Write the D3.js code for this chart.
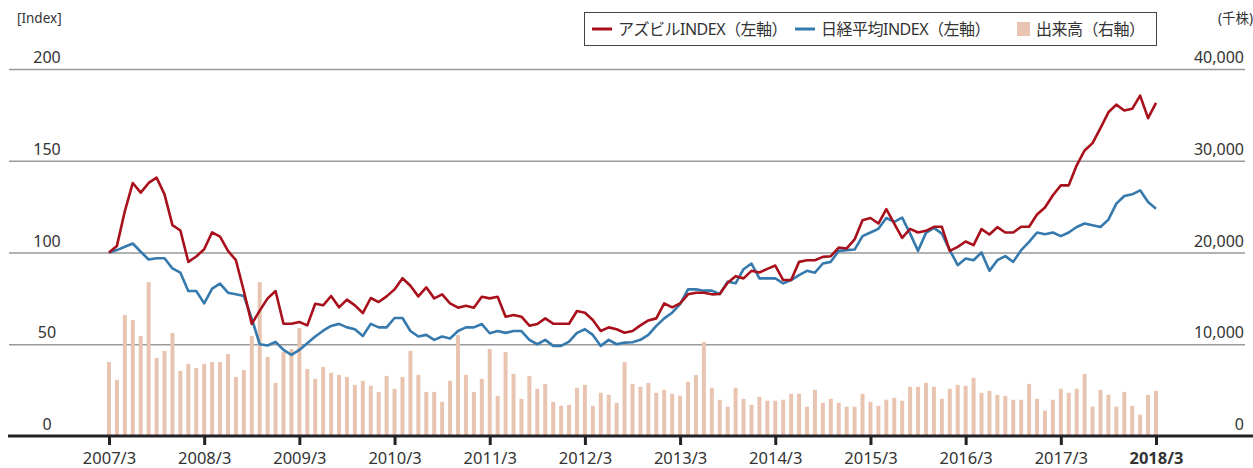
<!DOCTYPE html>
<html>
<head>
<meta charset="utf-8">
<script src="https://cdn.jsdelivr.net/npm/d3@7"></script>
<style>
  body { margin: 0; background: #fff; }
  svg { display: block; }
  text { font-family: "Noto Sans", "Noto Sans CJK JP", sans-serif; fill: #333; }
</style>
</head>
<body>
<div id="chart"></div>
<script>
// monthly, 2007/3 .. 2018/3 (133 points)
var azbil = [
  100, 103.6, 122.6, 137.9, 132.6, 137.9, 140.8, 131.7, 114.9, 112, 94.9, 97.8,
  101.8, 111, 108.7, 100.9, 95.8, 79, 61.1, 68.3, 75, 79, 61.2, 61.2,
  62.1, 60.3, 72.1, 71.2, 76.3, 70.1, 74.3, 71.2, 67, 75.2, 73, 76.1,
  79.9, 86, 81.9, 76.1, 81, 75, 77.2, 72.3, 69.9, 71, 69.9, 75.9,
  75, 75.9, 65, 65.9, 65, 60.1, 61, 64.1, 61.2, 61.2, 61.2, 68.1,
  67.2, 63.2, 57.2, 59.2, 58.2, 56.3, 57.2, 60.3, 63, 64.1, 72.3, 70.1,
  72.3, 77.2, 78.1, 78.1, 77.2, 77.4, 83.5, 87.1, 85.9, 90, 89.1, 91.1,
  92.9, 85, 85, 94.9, 95.8, 95.8, 97.6, 98, 102.7, 102.2, 107.1, 117.6,
  118.8, 115.8, 123.6, 115.8, 108, 112.9, 110.9, 111.8, 114, 114, 100.9, 103.1,
  106, 104, 112.7, 109.8, 113.8, 110.9, 110.9, 114, 114, 120.7, 124.5, 131.2,
  136.6, 136.6, 147.5, 155.6, 159.6, 167.8, 176.4, 180.6, 177.4, 178.3, 185.5, 173.2,
  181.5
];
var nikkei = [
  100, 101.3, 103.1, 104.9, 100.4, 96.2, 96.9, 96.9, 91.3, 89, 79, 79,
  72.3, 80.3, 83, 78.1, 77.2, 76.3, 64, 50, 49.3, 51.3, 46.9, 44.2,
  46.9, 50.5, 54.2, 57.4, 60, 61.1, 59.2, 58.2, 54.5, 61.1, 59.2, 59.2,
  64.3, 64.3, 57.2, 54.2, 55.1, 52.4, 54.2, 53.1, 57.2, 59.2, 59.2, 61,
  56, 57.2, 56.2, 57.2, 57.2, 52.4, 50, 52.4, 49.1, 49.1, 51.4, 56.2,
  58.2, 55.1, 49.1, 52.4, 50, 50.9, 51.1, 52.4, 55.1, 60, 64.1, 67.2,
  71.9, 79.9, 79.9, 79.2, 79.2, 77.4, 84.1, 83.2, 90.9, 94, 85.9, 85.9,
  85.9, 83.2, 85, 87.7, 90, 89, 94, 94.9, 100.9, 101.3, 101.6, 108.9,
  110.9, 112.9, 118.8, 116.7, 119, 110.3, 100.9, 110.7, 113.4, 110.3, 101.3, 93.1,
  96.7, 95.8, 100, 90, 95.8, 98, 94.9, 101.3, 105.8, 110.9, 110, 110.9,
  108.9, 110.9, 113.9, 115.8, 114.9, 113.9, 117.9, 126.6, 130.8, 131.7, 133.9, 127.5,
  123.9
];
// 出来高 (千株)
var volume = [
  8070, 6120, 13180, 12630, 10900, 16760, 8510, 9270, 11220, 7100, 7860, 7420,
  7860, 8070, 8070, 8940, 6440, 7200, 10900, 16760, 8620, 5790, 9160, 9480,
  11770, 7310, 6230, 7530, 6880, 6660, 6440, 5570, 6010, 5470, 4810, 6550,
  5140, 6440, 9270, 6660, 4810, 4810, 3730, 6010, 11000, 6660, 4810, 6230,
  9480, 4380, 9160, 6770, 4050, 6550, 5140, 5680, 3730, 3290, 3400, 5250,
  5570, 3290, 4710, 4490, 3620, 8070, 5680, 5360, 5790, 4710, 5030, 4600,
  4380, 5900, 6660, 10240, 5250, 3950, 3190, 5250, 4050, 3400, 4270, 3840,
  3840, 3950, 4600, 4600, 3190, 5030, 3620, 4050, 3620, 3190, 3190, 4600,
  3730, 3290, 3950, 4160, 3840, 5360, 5360, 5790, 5360, 4050, 5140, 5570,
  5470, 6340, 4710, 4920, 4490, 4380, 3950, 3950, 5680, 4050, 2750, 3950,
  5140, 4710, 5140, 6770, 3190, 5030, 4490, 3190, 4810, 3290, 2320, 4490,
  4920
];
var yearLabels = ["2007/3", "2008/3", "2009/3", "2010/3", "2011/3", "2012/3",
  "2013/3", "2014/3", "2015/3", "2016/3", "2017/3", "2018/3"];
var leftTicks = [0, 50, 100, 150, 200];
var rightTicks = [0, 10000, 20000, 30000, 40000];

var width = 1253, height = 468;
var red = "#a8101c", blue = "#3579ad", barColor = "#e8c4b1";

var svg = d3.select("#chart").append("svg")
  .attr("width", width)
  .attr("height", height);

var x = d3.scaleLinear().domain([0, azbil.length - 1]).range([109, 1156]);
var y = d3.scaleLinear().domain([0, 200]).range([436, 69]);
var yVol = d3.scaleLinear().domain([0, 40000]).range([436, 69]);

// grid lines
svg.append("g")
  .selectAll("line")
  .data(leftTicks.slice(1))
  .enter().append("line")
  .attr("x1", 9).attr("x2", 1245)
  .attr("y1", function (d) { return y(d) + 0.5; })
  .attr("y2", function (d) { return y(d) + 0.5; })
  .attr("stroke", "#999")
  .attr("stroke-width", 1.3);

// left labels
svg.append("g")
  .selectAll("text")
  .data(leftTicks)
  .enter().append("text")
  .attr("x", 47)
  .attr("y", function (d) { return y(d) - 6; })
  .attr("text-anchor", "middle")
  .style("font-size", "16px")
  .text(function (d) { return d; });

// right labels
svg.append("g")
  .selectAll("text")
  .data(rightTicks)
  .enter().append("text")
  .attr("x", 1244)
  .attr("y", function (d) { return yVol(d) - 6; })
  .attr("text-anchor", "end")
  .style("font-size", "16px")
  .text(function (d) { return d3.format(",")(d); });

svg.append("text").attr("x", 17).attr("y", 23)
  .style("font-size", "13.5px").text("[Index]");
svg.append("text").attr("x", 1253).attr("y", 23).attr("text-anchor", "end")
  .style("font-size", "13.5px").text("(千株)");

// volume bars
svg.append("g")
  .selectAll("rect")
  .data(volume)
  .enter().append("rect")
  .attr("x", function (d, i) { return x(i) - 2; })
  .attr("y", function (d) { return yVol(d); })
  .attr("width", 4)
  .attr("height", function (d) { return yVol(0) - yVol(d); })
  .attr("fill", barColor);

// lines
var line = d3.line()
  .x(function (d, i) { return x(i); })
  .y(function (d) { return y(d); });

svg.append("path").datum(nikkei)
  .attr("d", line)
  .attr("fill", "none")
  .attr("stroke", blue)
  .attr("stroke-width", 2.6)
  .attr("stroke-linejoin", "round");

svg.append("path").datum(azbil)
  .attr("d", line)
  .attr("fill", "none")
  .attr("stroke", red)
  .attr("stroke-width", 2.6)
  .attr("stroke-linejoin", "round");

// x axis
var xAxis = d3.axisBottom(x)
  .tickValues(yearLabels.map(function (d, i) { return i * 12; }))
  .tickFormat(function (d) { return yearLabels[d / 12]; })
  .tickSize(9)
  .tickSizeOuter(0);

var gx = svg.append("g")
  .attr("transform", "translate(0,436)")
  .call(xAxis);
gx.select(".domain").remove();
gx.selectAll(".tick line").attr("stroke", "#222").attr("stroke-width", 3);
gx.selectAll(".tick text")
  .attr("dy", 0).attr("y", 28)
  .style("font-size", "16.5px")
  .style("font-family", "\"Noto Sans\", sans-serif")
  .attr("fill", "#333")
  .style("font-weight", function (d) { return d === 132 ? "bold" : "normal"; });

svg.append("line")
  .attr("x1", 8).attr("x2", 1253)
  .attr("y1", 436).attr("y2", 436)
  .attr("stroke", "#222")
  .attr("stroke-width", 3);

// legend
var legend = svg.append("g");
legend.append("rect")
  .attr("x", 584.5).attr("y", 12.5)
  .attr("width", 572).attr("height", 33)
  .attr("fill", "#fff")
  .attr("stroke", "#444");

var items = [
  { label: "アズビルINDEX（左軸）", color: red, type: "line", x: 592 },
  { label: "日経平均INDEX（左軸）", color: blue, type: "line", x: 795 },
  { label: "出来高（右軸）", color: barColor, type: "rect", x: 1017 }
];
items.forEach(function (it) {
  if (it.type === "line") {
    legend.append("line")
      .attr("x1", it.x).attr("x2", it.x + 20)
      .attr("y1", 29).attr("y2", 29)
      .attr("stroke", it.color).attr("stroke-width", 3);
    legend.append("text")
      .attr("x", it.x + 26).attr("y", 35)
      .style("font-size", "16px")
      .style("letter-spacing", "-0.5px")
      .text(it.label);
  } else {
    legend.append("rect")
      .attr("x", it.x).attr("y", 22)
      .attr("width", 13).attr("height", 14)
      .attr("fill", it.color);
    legend.append("text")
      .attr("x", it.x + 19).attr("y", 35)
      .style("font-size", "16px")
      .style("letter-spacing", "-0.5px")
      .text(it.label);
  }
});
</script>
</body>
</html>
